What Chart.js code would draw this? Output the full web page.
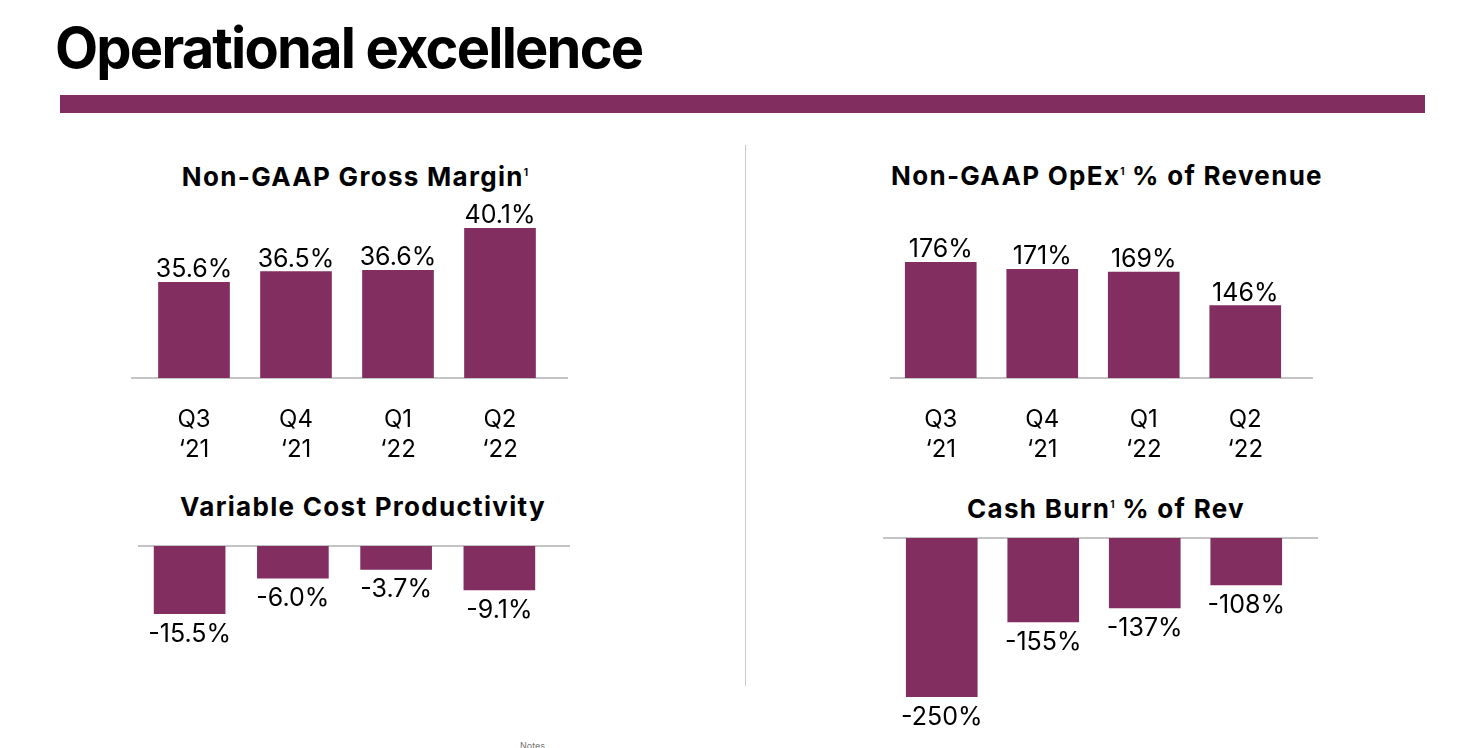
<!DOCTYPE html>
<html>
<head>
<meta charset="utf-8">
<script src="https://cdn.jsdelivr.net/npm/chart.js@4.4.1/dist/chart.umd.min.js"></script>
<style>
body{margin:0;width:1470px;height:748px;background:#fff;position:relative;overflow:hidden;font-family:Inter,sans-serif;color:#000;}
h1{position:absolute;left:55px;top:20px;margin:0;font-size:56px;line-height:1;font-weight:700;letter-spacing:-1.8px;white-space:nowrap;}
.band{position:absolute;left:60px;top:95px;width:1365px;height:18px;background:#822d5f;}
.divider{position:absolute;left:745px;top:145px;width:1px;height:541px;background:#c9c9c9;}
.sub{position:absolute;width:600px;text-align:center;font-size:26px;line-height:1;font-weight:700;letter-spacing:1.3px;white-space:nowrap;}
.sub sup{font-size:10px;vertical-align:10px;line-height:0;letter-spacing:0;}
.note{position:absolute;left:520px;top:740px;font-size:9px;color:#777;}
canvas{position:absolute;}
</style>
</head>
<body>
<h1>Operational excellence</h1>
<div class="band"></div>
<div class="divider"></div>
<div class="sub" style="left:55px;top:164px">Non-GAAP Gross Margin<sup>1</sup></div>
<div class="sub" style="left:807px;top:163px">Non-GAAP OpEx<sup>1</sup> % of Revenue</div>
<div class="sub" style="left:63px;top:494px">Variable Cost Productivity</div>
<div class="sub" style="left:806px;top:496px">Cash Burn<sup>1</sup> % of Rev</div>
<div class="note">Notes</div>

<canvas id="grossMargin" width="460" height="297" style="left:120px;top:195px"></canvas>
<canvas id="opex" width="470" height="297" style="left:870px;top:195px"></canvas>
<canvas id="varCost" width="470" height="160" style="left:120px;top:520px"></canvas>
<canvas id="cashBurn" width="470" height="238" style="left:870px;top:510px"></canvas>

<script>
var quarters = [['Q3', '\u201821'], ['Q4', '\u201821'], ['Q1', '\u201822'], ['Q2', '\u201822']];
var grossMargin = [35.6, 36.5, 36.6, 40.1];
var opexPct = [176, 171, 169, 146];
var varCost = [-15.5, -6.0, -3.7, -9.1];
var cashBurn = [-250, -155, -137, -108];
var grossMarginLabels = ['35.6%', '36.5%', '36.6%', '40.1%'];
var opexLabels = ['176%', '171%', '169%', '146%'];
var varCostLabels = ['-15.5%', '-6.0%', '-3.7%', '-9.1%'];
var cashBurnLabels = ['-250%', '-155%', '-137%', '-108%'];

var purple = '#822e60';

// value text above / below each bar
var valueLabels = {
    id: 'valueLabels',
    afterDatasetsDraw: function (chart, args, opts) {
        var ctx = chart.ctx;
        var meta = chart.getDatasetMeta(0);
        ctx.save();
        ctx.font = '400 25px Inter';
        ctx.fillStyle = '#000';
        ctx.textAlign = 'center';
        meta.data.forEach(function (bar, i) {
            var v = chart.data.datasets[0].data[i];
            if (v >= 0) {
                ctx.textBaseline = 'alphabetic';
                ctx.fillText(opts.texts[i], bar.x, bar.y - 5);
            } else {
                ctx.textBaseline = 'top';
                ctx.fillText(opts.texts[i], bar.x, bar.y + 8);
            }
        });
        ctx.restore();
    }
};

// grey axis line, a bit wider than the bars
var baseLine = {
    id: 'baseLine',
    beforeDatasetsDraw: function (chart, args, opts) {
        var a = chart.chartArea;
        var y = opts.side == 'top' ? a.top : a.bottom;
        var ctx = chart.ctx;
        ctx.save();
        ctx.strokeStyle = '#c4c4c4';
        ctx.lineWidth = 2;
        ctx.beginPath();
        ctx.moveTo(a.left - opts.extL, y);
        ctx.lineTo(a.right + opts.extR, y);
        ctx.stroke();
        ctx.restore();
    }
};

function makeChart(id, values, texts, yMin, yMax, base, padding, side, extL, extR, showTicks) {
    var ds = {
        data: values,
        backgroundColor: purple,
        borderWidth: 0,
        barThickness: 71
    };
    if (base !== null) ds.base = base;
    return new Chart(document.getElementById(id), {
        type: 'bar',
        data: {
            labels: quarters,
            datasets: [ds]
        },
        options: {
            responsive: false,
            animation: false,
            devicePixelRatio: 1,
            layout: { padding: padding },
            scales: {
                x: {
                    display: showTicks,
                    offset: true,
                    grid: { display: false, drawTicks: false },
                    border: { display: false },
                    ticks: {
                        padding: 27,
                        color: '#000',
                        font: { family: 'Inter', size: 24, lineHeight: 1.25 }
                    }
                },
                y: {
                    display: false,
                    min: yMin,
                    max: yMax
                }
            },
            plugins: {
                legend: { display: false },
                tooltip: { enabled: false },
                valueLabels: { texts: texts },
                baseLine: { side: side, extL: extL, extR: extR }
            }
        },
        plugins: [baseLine, valueLabels]
    });
}

makeChart('grossMargin', grossMargin, grossMarginLabels, 27.7, 40.1, null,
    { left: 23, right: 29, top: 33, bottom: 0 }, 'bottom', 12, 17, true);
makeChart('opex', opexPct, opexLabels, 96, 176, null,
    { left: 20, right: 44, top: 67, bottom: 0 }, 'bottom', 0, 17, true);
makeChart('varCost', varCost, varCostLabels, -15.5, 2.48, 2.48,
    { left: 18, right: 39, top: 26, bottom: 66 }, 'top', 0, 19, false);
makeChart('cashBurn', cashBurn, cashBurnLabels, -250, -48.5, null,
    { left: 21, right: 43, top: 28, bottom: 51 }, 'top', 8, 21, false);
</script>
</body>
</html>
